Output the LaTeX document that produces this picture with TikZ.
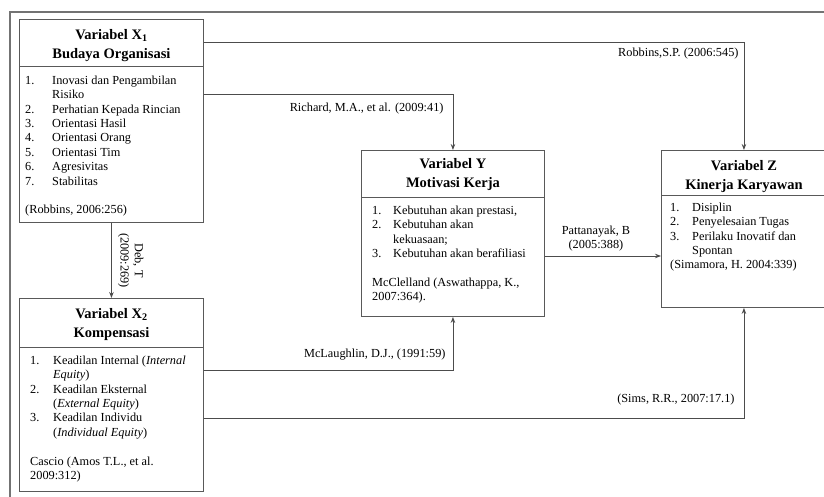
\documentclass[tikz,border=0pt]{standalone}
\usepackage{fontspec}
\setmainfont{Liberation Serif}
\usetikzlibrary{positioning, arrows.meta}

\begin{document}
\begin{tikzpicture}[x=1pt, y=-1pt,
		box/.style={draw=black!65, line width=0.9pt, anchor=north west, inner sep=0pt},
		head/.style={anchor=north, align=center, inner sep=0pt, font=\fontsize{14.5}{19}\selectfont\bfseries},
		lst/.style={anchor=north west, inner sep=0pt, font=\fontsize{12.3}{14.4}\selectfont},
		lbl/.style={inner sep=1pt, font=\fontsize{12.3}{14.4}\selectfont},
		link/.style={draw=black!70, line width=0.9pt, -{Stealth[length=6pt, width=4.5pt]}}]
		\useasboundingbox (0,0) rectangle (824,496);
		\draw[black!55, line width=1.3pt] (10,12) rectangle (840,510);
		% boxes
		\node[box, minimum width=184, minimum height=203] (X1) at (19,19) {};
		\node[box, minimum width=184, minimum height=193] (X2) at (19,298) {};
		\node[box, minimum width=183, minimum height=166] (Y) at (361,150) {};
		\node[box, minimum width=165, minimum height=157] (Z) at (661,150) {};
		\foreach \b/\d in {X1/47, X2/49, Y/47, Z/45}
			\draw[black!65, line width=0.9pt] ([yshift=-\d pt]\b.north west) -- ([yshift=-\d pt]\b.north east);
		% titles
		\node[head] (X1h) at ([yshift=-10pt]X1.north) {Variabel X\textsubscript{1}\\Budaya Organisasi};
		\node[head] (X2h) at ([yshift=-10pt]X2.north) {Variabel X\textsubscript{2}\\Kompensasi};
		\node[head] (Yh) at ([yshift=-8pt]Y.north) {Variabel Y\\Motivasi Kerja};
		\node[head] (Zh) at ([yshift=-10pt]Z.north) {Variabel Z\\Kinerja Karyawan};
		% lists
		\node[lst] (X1l) at ([xshift=6pt, yshift=-55pt]X1.north west) {\begin{tabular}{@{}p{27pt}@{}l@{}}
			1. & Inovasi dan Pengambilan\\ & Risiko\\ 2. & Perhatian Kepada Rincian\\ 3. & Orientasi Hasil\\
			4. & Orientasi Orang\\ 5. & Orientasi Tim\\ 6. & Agresivitas\\ 7. & Stabilitas\\[14.4pt]
			\multicolumn{2}{@{}l@{}}{(Robbins, 2006:256)}
		\end{tabular}};
		\node[lst] (X2l) at ([xshift=11pt, yshift=-56pt]X2.north west) {\begin{tabular}{@{}p{23pt}@{}l@{}}
			1. & Keadilan Internal (\textit{Internal}\\ & \textit{Equity})\\ 2. & Keadilan Eksternal\\ & (\textit{External Equity})\\
			3. & Keadilan Individu\\ & (\textit{Individual Equity})\\[14.4pt]
			\multicolumn{2}{@{}l@{}}{Cascio (Amos T.L., et al.}\\ \multicolumn{2}{@{}l@{}}{2009:312)}
		\end{tabular}};
		\node[lst] (Yl) at ([xshift=11pt, yshift=-54pt]Y.north west) {\begin{tabular}{@{}p{21pt}@{}l@{}}
			1. & Kebutuhan akan prestasi,\\ 2. & Kebutuhan akan\\ & kekuasaan;\\ 3. & Kebutuhan akan berafiliasi\\[14.4pt]
			\multicolumn{2}{@{}l@{}}{McClelland (Aswathappa, K.,}\\ \multicolumn{2}{@{}l@{}}{2007:364).}
		\end{tabular}};
		\node[lst] (Zl) at ([xshift=9pt, yshift=-51pt]Z.north west) {\begin{tabular}{@{}p{22pt}@{}l@{}}
			1. & Disiplin\\ 2. & Penyelesaian Tugas\\ 3. & Perilaku Inovatif dan\\ & Spontan\\
			\multicolumn{2}{@{}l@{}}{(Simamora, H. 2004:339)}
		\end{tabular}};
		% connectors
		\draw[link] ([yshift=-23pt]X1.north east) -| (Z.north) node[lbl, pos=0.5, anchor=north east, xshift=-4pt, yshift=-5pt] {Robbins,S.P. (2006:545)};
		\draw[link] ([yshift=-75pt]X1.north east) -| (Y.north) node[lbl, pos=0.5, anchor=north east, xshift=-8pt, yshift=-8pt] {Richard, M.A., et al. (2009:41)};
		\draw[link] (X1) -- (X2) node[lbl, midway, anchor=south, rotate=-90, align=center, inner sep=6pt] {Deb, T\\(2009:269)};
		\draw[link] ([yshift=-106pt]Y.north east) -- ([yshift=-106pt]Z.north west) node[lbl, midway, above, align=center, xshift=-7pt, yshift=3pt] {Pattanayak, B\\(2005:388)};
		\draw[link] ([yshift=-72pt]X2.north east) -| (Y.south) node[lbl, pos=0.5, anchor=south east, xshift=-6pt, yshift=8pt] {McLaughlin, D.J., (1991:59)};
		\draw[link] ([yshift=-120pt]X2.north east) -| (Z.south) node[lbl, pos=0.5, anchor=south east, xshift=-8pt, yshift=11pt] {(Sims, R.R., 2007:17.1)};
	\end{tikzpicture}
\end{document}
